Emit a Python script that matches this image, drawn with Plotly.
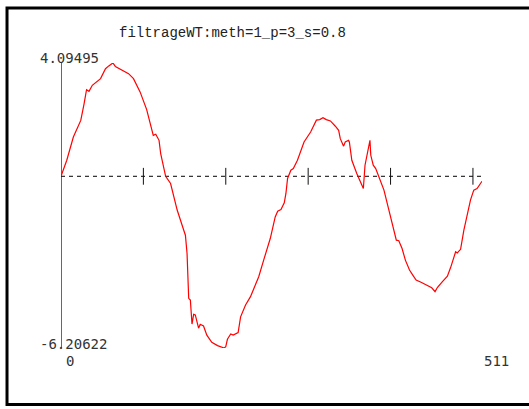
import plotly.graph_objects as go

# ---- data ----
title_text = "filtrageWT:meth=1_p=3_s=0.8"
y_max_label = "4.09495"
y_min_label = "-6.20622"
x_min_label = "0"
x_max_label = "511"
y_max = 4.09495
y_min = -6.20622
x_end = 511
tick_positions = [100, 200, 300, 400, 500]

sample_index = [0, 7, 15, 24, 28, 31, 34, 38, 48, 54, 58, 63, 66, 74, 82, 88, 96, 104,
                109, 112, 115, 119, 121, 127, 133, 141, 149, 151, 153, 155, 157, 159,
                161, 163, 167, 169, 173, 177, 183, 190, 198, 200, 202, 206, 209, 215,
                218, 224, 230, 240, 246, 254, 260, 263, 267, 271, 273, 275, 279, 282,
                287, 295, 303, 310, 314, 318, 322, 327, 333, 337, 339, 343, 345, 349,
                350, 353, 359, 363, 367, 369, 372, 375, 376, 379, 382, 386, 392, 398,
                404, 407, 410, 414, 418, 423, 427, 431, 437, 444, 450, 454, 457, 463,
                469, 473, 477, 479, 481, 485, 489, 493, 497, 501, 505, 511]
signal = [0.0, 0.58, 1.42, 2.02, 2.62, 3.13, 3.07, 3.29, 3.53, 3.89, 3.99, 4.09495, 3.97,
          3.85, 3.71, 3.53, 3.05, 2.41, 1.78, 1.48, 1.52, 1.30, 0.82, 0.0, -0.26, -1.22,
          -1.95, -2.13, -2.79, -4.41, -4.47, -5.34, -4.99, -5.01, -5.49, -5.35, -5.41,
          -5.74, -6.0, -6.12, -6.20622, -6.16, -5.89, -5.70, -5.74, -5.65, -5.08, -4.65,
          -4.35, -3.63, -3.03, -2.25, -1.47, -1.26, -1.20, -0.96, -0.62, -0.08, 0.22,
          0.28, 0.58, 1.24, 1.60, 2.03, 2.05, 2.12, 2.05, 2.0, 1.81, 1.66, 1.36, 1.09,
          1.24, 1.30, 1.24, 0.58, 0.10, -0.20, -0.44, 0.40, 0.82, 1.30, 0.76, 0.40, 0.28,
          -0.02, -0.50, -1.22, -1.95, -2.31, -2.33, -2.61, -3.03, -3.39, -3.57, -3.75,
          -3.83, -3.93, -4.03, -4.17, -4.01, -3.81, -3.61, -3.29, -2.85, -2.73, -2.77,
          -2.64, -1.95, -1.40, -0.86, -0.50, -0.44, -0.18]

# ---- layout geometry (pixels) ----
W, H = 529, 409
L, R, T, B = 60.5, 47.4, 63.0, 60.5
pw, ph = W - L - R, H - T - B


def px_x(px):
    return (px - L) / pw


def px_y(py):
    return (H - B - py) / ph


fig = go.Figure()

# zero dashed line
fig.add_trace(go.Scatter(x=[0, x_end], y=[0, 0], mode="lines",
                         line=dict(color="#000000", width=1, dash="4px,4px"),
                         hoverinfo="skip", showlegend=False))
# tick marks on zero line
fig.add_trace(go.Scatter(x=tick_positions, y=[0] * len(tick_positions), mode="markers",
                         marker=dict(symbol="line-ns-open", size=12, color="#111111",
                                     line=dict(color="#111111", width=1)),
                         hoverinfo="skip", showlegend=False))
# vertical axis
fig.add_trace(go.Scatter(x=[0, 0], y=[y_min, y_max], mode="lines",
                         line=dict(color="#000000", width=1.2),
                         hoverinfo="skip", showlegend=False))
# signal
fig.add_trace(go.Scatter(x=sample_index, y=signal, mode="lines",
                         line=dict(color="#ff0000", width=1.2),
                         showlegend=False))

fig.update_xaxes(range=[0, x_end], visible=False, fixedrange=True)
fig.update_yaxes(range=[y_min, y_max], visible=False, fixedrange=True)

lab_font = dict(family="DejaVu Sans Mono", size=14, color="#333333")
ann = [
    dict(text=title_text, x=px_x(232), y=px_y(33), xanchor="center", yanchor="middle",
         font=dict(family="Liberation Mono", size=14, color="#222222")),
    dict(text=y_max_label, x=px_x(37.5), y=px_y(58), xanchor="left", yanchor="middle", font=lab_font),
    dict(text=y_min_label, x=px_x(37.5), y=px_y(344), xanchor="left", yanchor="middle", font=lab_font),
    dict(text=x_min_label, x=px_x(64), y=px_y(362), xanchor="left", yanchor="middle", font=lab_font),
    dict(text=x_max_label, x=px_x(482), y=px_y(362), xanchor="left", yanchor="middle", font=lab_font),
]
for a in ann:
    a.update(xref="paper", yref="paper", showarrow=False)

fig.update_layout(
    width=W, height=H,
    margin=dict(l=L, r=R, t=T, b=B, pad=0),
    paper_bgcolor="white", plot_bgcolor="white",
    annotations=ann,
    shapes=[dict(type="rect", xref="paper", yref="paper",
                 x0=px_x(6.5), x1=px_x(532), y0=px_y(405), y1=px_y(8),
                 line=dict(color="#000000", width=3), fillcolor="rgba(0,0,0,0)",
                 layer="below")],
)

fig.write_html("out.html")
